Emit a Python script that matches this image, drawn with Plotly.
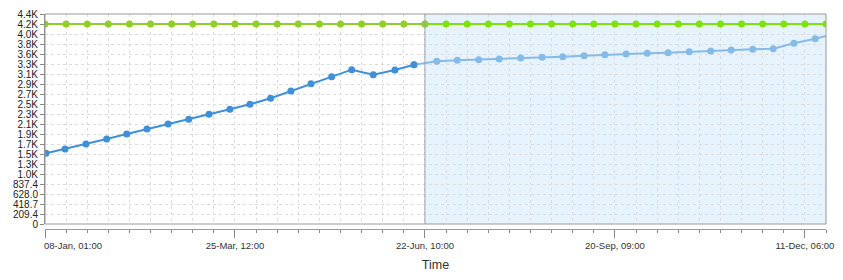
import plotly.graph_objects as go

# ---- data ----
x_tick_positions = [0, 9, 18, 27, 36]
x_tick_labels = ["08-Jan, 01:00", "25-Mar, 12:00", "22-Jun, 10:00", "20-Sep, 09:00", "11-Dec, 06:00"]

y_step = 209.3714
y_tick_labels = ["0", "209.4", "418.7", "628.0", "837.4", "1.0K", "1.3K", "1.5K", "1.7K", "1.9K",
                 "2.1K", "2.3K", "2.5K", "2.7K", "2.9K", "3.1K", "3.3K", "3.6K", "3.8K", "4.0K",
                 "4.2K", "4.4K"]

green_x = list(range(38))
green_values = [4187] * 38

blue_x = [0.05, 0.95, 1.94, 2.92, 3.87, 4.83, 5.83, 6.81, 7.77, 8.76, 9.71, 10.69, 11.65, 12.60,
          13.58, 14.53, 15.55, 16.58, 17.48,
          18.56, 19.53, 20.55, 21.52, 22.54, 23.55, 24.53, 25.54, 26.52, 27.53, 28.53, 29.52,
          30.52, 31.54, 32.51, 33.53, 34.50, 35.48, 36.49, 37.5]
blue_values = [1480, 1570, 1675, 1780, 1884, 1989, 2094, 2192, 2297, 2401, 2506, 2632, 2785, 2937,
               3084, 3231, 3126, 3224, 3335,
               3406, 3427, 3440, 3455, 3476, 3490, 3503, 3524, 3545, 3559, 3574, 3587, 3608,
               3622, 3643, 3658, 3670, 3783, 3880, 3990]

split_green = 18     # index where the highlighted window starts
split_blue = 18
window_start = 18
x_max = 37

# ---- colours ----
blue_dark = "#3f90d8"
blue_light = "#86bbe8"
green_dark = "#90cf2a"
green_light = "#7fe20a"

fig = go.Figure()

fig.add_trace(go.Scatter(x=blue_x[split_blue:], y=blue_values[split_blue:], mode="lines+markers",
                         line=dict(color=blue_light, width=2), marker=dict(color=blue_light, size=7),
                         showlegend=False))
fig.add_trace(go.Scatter(x=blue_x[:split_blue + 1], y=blue_values[:split_blue + 1], mode="lines+markers",
                         line=dict(color=blue_dark, width=2), marker=dict(color=blue_dark, size=7),
                         showlegend=False))
fig.add_trace(go.Scatter(x=green_x[split_green:], y=green_values[split_green:], mode="lines+markers",
                         line=dict(color=green_light, width=2), marker=dict(color=green_light, size=7),
                         showlegend=False))
fig.add_trace(go.Scatter(x=green_x[:split_green + 1], y=green_values[:split_green + 1], mode="lines+markers",
                         line=dict(color=green_dark, width=2), marker=dict(color=green_dark, size=7),
                         showlegend=False))
# empty helper trace so the overlay axis (first tick label, shifted right) is drawn
fig.add_trace(go.Scatter(x=[], y=[], xaxis="x2", yaxis="y", showlegend=False, hoverinfo="skip"))

# highlighted window
fig.add_shape(type="rect", xref="x", yref="y domain", x0=window_start, x1=x_max, y0=0, y1=1,
              fillcolor="#e6f3fd", line=dict(width=0), layer="below")
fig.add_shape(type="line", xref="x", yref="y domain", x0=window_start, x1=window_start, y0=0, y1=1,
              line=dict(color="#9aa4ad", width=1), layer="above")
# plot frame
fig.add_shape(type="rect", xref="x domain", yref="y domain", x0=0, x1=1, y0=0, y1=1,
              line=dict(color="#9a9a9a", width=1), fillcolor="rgba(0,0,0,0)", layer="above")

tick_font = dict(family="Liberation Sans, Arial, sans-serif", size=9.5, color="#333333")
ticktext_main = [""] + x_tick_labels[1:]

fig.update_layout(
    width=843, height=280,
    margin=dict(l=45, r=17, t=14, b=51),
    paper_bgcolor="white", plot_bgcolor="white",
    font=dict(family="Liberation Sans, Arial, sans-serif", color="#333333"),
    xaxis=dict(
        range=[0, x_max], anchor="free", position=0, automargin=False,
        tickmode="array", tickvals=x_tick_positions, ticktext=ticktext_main,
        ticks="outside", ticklen=8, tickcolor="#888888", tickwidth=1,
        showline=True, linecolor="#999999", linewidth=1,
        showgrid=True, gridcolor="#dcdcdc", griddash="dot", gridwidth=1,
        zeroline=False,
        tickfont=tick_font,
        minor=dict(tickmode="linear", tick0=0, dtick=1, ticks="outside", ticklen=3,
                   tickcolor="#888888", showgrid=True, gridcolor="#dcdcdc", griddash="dot"),
        title=dict(text="Time", font=dict(family="Liberation Sans, Arial, sans-serif", size=12.5, color="#333333"),
                   standoff=9),
    ),
    xaxis2=dict(
        range=[0, x_max], overlaying="x", anchor="free", position=0, side="bottom", automargin=False,
        tickmode="array", tickvals=x_tick_positions[:1], ticktext=x_tick_labels[:1],
        ticklabelshift=28, ticklabeloverflow="allow",
        ticks="outside", ticklen=8, tickcolor="rgba(0,0,0,0)",
        showline=False, showgrid=False, zeroline=False,
        tickfont=tick_font,
    ),
    yaxis=dict(
        range=[0, 21 * y_step], domain=[5 / 215, 1], automargin=False,
        tickmode="array", tickvals=[i * y_step for i in range(len(y_tick_labels))], ticktext=y_tick_labels,
        ticks="outside", ticklen=4, tickcolor="#888888",
        showline=True, linecolor="#888888",
        showgrid=True, gridcolor="#dcdcdc", griddash="dot",
        zeroline=False,
        tickfont=dict(family="Liberation Sans, Arial, sans-serif", size=10, color="#222222"),
    ),
)

fig.write_html("out.html", config={"displayModeBar": False})
